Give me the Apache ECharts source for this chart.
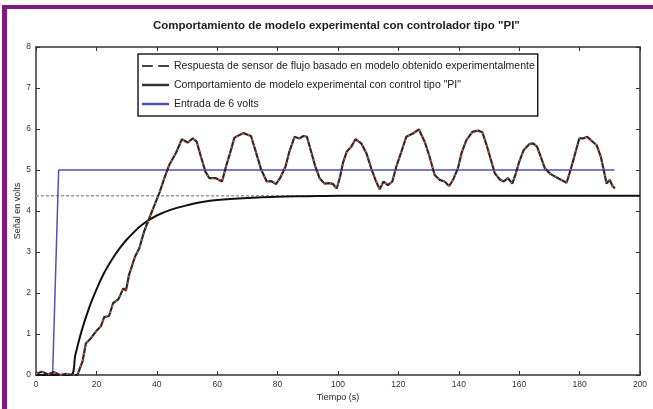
<!DOCTYPE html>
<html>
<head>
<meta charset="utf-8">
<script src="https://cdn.jsdelivr.net/npm/echarts@6/dist/echarts.min.js"></script>
<style>
html,body{margin:0;padding:0;background:#fff;}
#chart{width:653px;height:409px;}
</style>
</head>
<body>
<div id="chart"></div>
<script>
// ---- Data ----
const titulo = 'Comportamiento de modelo experimental con controlador tipo "PI"';
const nombresSeries = [
  'Respuesta de sensor de flujo basado en modelo obtenido experimentalmente',
  'Comportamiento de modelo experimental con control tipo "PI"',
  'Entrada de 6 volts'
];
const xTicks = [0, 20, 40, 60, 80, 100, 120, 140, 160, 180, 200];
const yTicks = [0, 1, 2, 3, 4, 5, 6, 7, 8];

// Model response (smooth black curve)
const tiempoModelo = [0, 11.5, 13, 15, 17.5, 20, 22.5, 25, 27.5, 30, 35, 40, 45, 50, 55, 60, 70, 80, 90, 100, 200];
const respuestaModelo = [0, 0, 0.48, 1.05, 1.62, 2.08, 2.48, 2.8, 3.07, 3.3, 3.66, 3.89, 4.04, 4.14, 4.22, 4.27, 4.32, 4.35, 4.36, 4.37, 4.37];

// Grey dashed steady-state level
const tiempoNivel = [0, 200];
const nivelFinal = [4.37, 4.37];

// Experimental PI behaviour (black line with red dashes)
const tiempoExp = [0,2,4,6,8,10,12,13.7,
  15.4,16.5,18.1,19.8,21.5,22.6,24.2,25.5,27.3,28.9,
  29.8,30.8,32.8,34.2,35.8,37.7,39.5,40.8,42.5,44.1,
  46.3,48.3,50.2,51.9,53.2,54.6,56.1,57.4,59.6,61.6,
  62.9,64.2,65.7,68.7,71.2,72.6,74.5,76.4,77.8,79.5,
  80.8,82.6,83.9,85.6,87.2,88.6,89.7,91.1,92.5,93.9,
  95.5,97.2,98.3,99.6,100.7,101.6,102.9,104.4,105.8,107.7,
  109.4,111,112.4,113.8,115.1,116.5,118,119.3,121,122.6,
  124.8,126.8,128.7,130.3,132,133.7,135.3,136.8,138.1,139.7,
  140.9,142.5,144.5,146.4,147.8,149.2,150.5,151.9,153.6,154.9,
  156.3,157.7,158.9,160,161.5,163.3,164.6,165.9,167.1,168.5,
  170.4,172.9,175.7,177,178.4,179.9,181.2,182.5,184,185.6,
  187,188,188.9,190,190.9,191.7];
const valoresExp = [0.03,0.08,0.02,0.07,0.0,0.03,0.0,0.0,
  0.33,0.77,0.89,1.06,1.19,1.41,1.44,1.75,1.85,2.11,
  2.06,2.44,2.89,3.09,3.5,3.86,4.19,4.43,4.8,5.12,
  5.41,5.75,5.67,5.77,5.69,5.33,4.96,4.8,4.8,4.72,
  5.08,5.4,5.79,5.9,5.83,5.49,5.02,4.72,4.73,4.66,
  4.8,5.08,5.45,5.81,5.77,5.83,5.81,5.45,5.08,4.8,
  4.67,4.68,4.66,4.55,4.84,5.16,5.45,5.57,5.75,5.65,
  5.41,5.04,4.76,4.53,4.72,4.63,4.72,5.08,5.45,5.81,
  5.89,5.99,5.69,5.33,4.88,4.76,4.72,4.61,4.76,5.04,
  5.41,5.73,5.93,5.96,5.92,5.61,5.28,4.92,4.77,4.72,
  4.8,4.67,4.92,5.2,5.49,5.63,5.65,5.57,5.33,5.04,
  4.9,4.8,4.69,5.0,5.37,5.77,5.77,5.81,5.71,5.61,
  5.33,5.0,4.67,4.76,4.61,4.55];

// 6 V input step (blue)
const tiempoEntrada = [0, 5.5, 7.5, 191.5];
const entrada = [0, 0, 5, 5];

// ---- Build chart ----
const zip = (a, b) => a.map((t, i) => [t, b[i]]);
const FONT = '"Liberation Sans", Arial, sans-serif';
const AXC = '#333';

const chart = echarts.init(document.getElementById('chart'), null, {renderer: 'canvas'});

const tickCommon = {inside: true, length: 4, lineStyle: {color: AXC, width: 1}};
const lineCommon = {show: true, onZero: false, lineStyle: {color: AXC, width: 1.5}};
const labelCommon = {fontSize: 8.5, color: '#333', fontFamily: FONT, margin: 5};

const ICON_DASH = 'path://M0,0H10V2H0Z M15,0H25V2H15Z';

chart.setOption({
  backgroundColor: '#fff',
  animation: false,
  title: {
    text: titulo,
    left: 148, top: 15,
    textStyle: {fontSize: 11.5, fontWeight: 'bold', color: '#222', fontFamily: FONT}
  },
  graphic: [
    {type: 'rect', shape: {x: 2, y: 5, width: 651, height: 4}, style: {fill: '#7f1a7f'}, z: 100},
    {type: 'rect', shape: {x: 2, y: 5, width: 5, height: 404}, style: {fill: '#7f1a7f'}, z: 100}
  ],
  legend: {
    orient: 'vertical',
    left: 138, top: 54,
    padding: [6, 3, 6, 4],
    itemGap: 7,
    itemWidth: 27, itemHeight: 2.5,
    backgroundColor: '#fff',
    borderColor: '#222', borderWidth: 1.5,
    textStyle: {fontSize: 10.5, lineHeight: 12, color: '#222', fontFamily: FONT},
    data: [
      {name: nombresSeries[0], icon: ICON_DASH, itemStyle: {color: '#444'}},
      {name: nombresSeries[1], icon: 'rect', itemStyle: {color: '#333'}},
      {name: nombresSeries[2], icon: 'rect', itemStyle: {color: '#5050b8'}}
    ]
  },
  grid: {left: 36, right: 13, top: 47, bottom: 34, containLabel: false, outerBoundsMode: 'none'},
  xAxis: [
    {
      type: 'value', min: 0, max: 200, interval: 20, position: 'bottom',
      name: 'Tiempo (s)', nameLocation: 'middle', nameGap: 18, nameMoveOverlap: false,
      nameTextStyle: {fontSize: 9, color: '#222', fontFamily: FONT},
      axisLine: lineCommon, axisTick: tickCommon,
      axisLabel: labelCommon,
      splitLine: {show: false}
    },
    {
      type: 'value', min: 0, max: 200, interval: 20, position: 'top',
      axisLine: lineCommon, axisTick: tickCommon,
      axisLabel: {show: false}, splitLine: {show: false}
    }
  ],
  yAxis: [
    {
      type: 'value', min: 0, max: 8, interval: 1, position: 'left',
      name: 'Señal en volts', nameLocation: 'middle', nameGap: 14, nameMoveOverlap: false,
      nameTextStyle: {fontSize: 9, color: '#222', fontFamily: FONT},
      axisLine: lineCommon, axisTick: tickCommon,
      axisLabel: labelCommon,
      splitLine: {show: false}
    },
    {
      type: 'value', min: 0, max: 8, interval: 1, position: 'right',
      axisLine: lineCommon, axisTick: tickCommon,
      axisLabel: {show: false}, splitLine: {show: false}
    }
  ],
  series: [
    {
      name: 'nivel', type: 'line', data: zip(tiempoNivel, nivelFinal),
      symbol: 'none', silent: true,
      lineStyle: {color: '#9a9a9a', width: 1.5, type: [3, 2]}, z: 1
    },
    {
      name: nombresSeries[2], type: 'line', data: zip(tiempoEntrada, entrada),
      symbol: 'none', color: '#5050b8',
      lineStyle: {color: '#5050b8', width: 1.5}, z: 2
    },
    {
      name: nombresSeries[0], type: 'line', data: zip(tiempoModelo, respuestaModelo),
      symbol: 'none', smooth: 0.3, color: '#111',
      lineStyle: {color: '#111', width: 2}, z: 3
    },
    {
      name: nombresSeries[1], type: 'line', data: zip(tiempoExp, valoresExp),
      symbol: 'none', color: '#333',
      lineStyle: {color: '#2a2a2a', width: 2.2}, z: 4
    },
    {
      name: 'exp-rojo', type: 'line', data: zip(tiempoExp, valoresExp),
      symbol: 'none', silent: true,
      lineStyle: {color: '#f0583a', width: 1.6, type: [1.5, 5]}, z: 5
    }
  ]
});
</script>
</body>
</html>
